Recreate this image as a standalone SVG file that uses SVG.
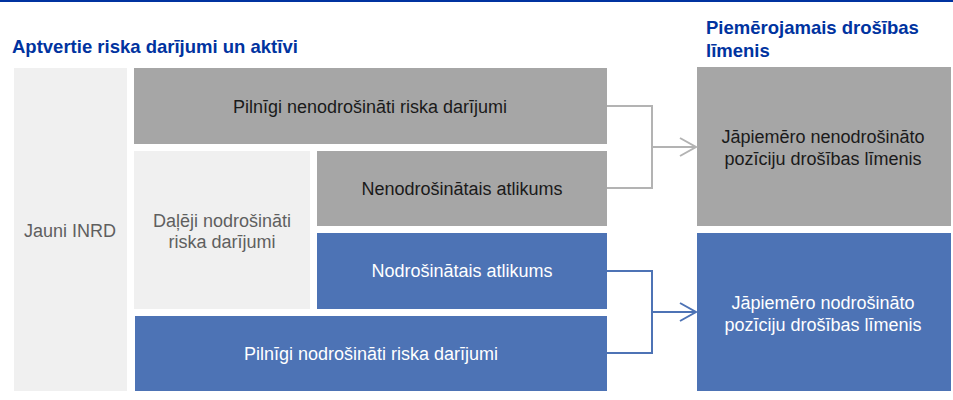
<svg xmlns="http://www.w3.org/2000/svg" width="953" height="400" viewBox="0 0 953 400">
<defs>
<style>
text{font-family:"Liberation Sans",Arial,sans-serif;font-size:18px;text-anchor:middle}
.title{font-weight:bold;fill:#0033a0;text-anchor:start;font-size:18.5px}
.light{fill:#f0f0f0}
.gray{fill:#a6a6a6}
.blue{fill:#4d73b5}
.dk{fill:#1a1a1a}
.wh{fill:#ffffff}
.mid{fill:#5f5f5f}
.cg{fill:none;stroke:#b3b3b3;stroke-width:2}
.cb{fill:none;stroke:#4d73b5;stroke-width:2}
</style>
<marker id="ag" markerWidth="20" markerHeight="20" refX="17" refY="10" orient="auto" markerUnits="userSpaceOnUse"><path d="M1,1 L17,10 L1,19" fill="none" stroke="#b3b3b3" stroke-width="2"/></marker>
<marker id="ab" markerWidth="20" markerHeight="20" refX="17" refY="10" orient="auto" markerUnits="userSpaceOnUse"><path d="M1,1 L17,10 L1,19" fill="none" stroke="#4d73b5" stroke-width="2"/></marker>
</defs>
<rect width="953" height="400" fill="#ffffff"/>
<rect x="0" y="0" width="953" height="2" fill="#0033a0"/>
<text class="title" x="12" y="53">Aptvertie riska darījumi un aktīvi</text>
<text class="title" x="706" y="34">Piemērojamais drošības</text>
<text class="title" x="706" y="57">līmenis</text>
<g id="jauni"><rect class="light" x="14" y="68" width="113" height="323"/><text class="mid" x="70" y="237">Jauni INRD</text></g>
<g id="pilnigi-nenodr"><rect class="gray" x="134" y="68" width="473" height="76"/><text class="dk" x="370" y="113">Pilnīgi nenodrošināti riska darījumi</text></g>
<g id="daleji"><rect class="light" x="134" y="151" width="176" height="158"/><text class="mid" x="222" y="227">Daļēji nodrošināti</text><text class="mid" x="222" y="248">riska darījumi</text></g>
<g id="nenodr-atl"><rect class="gray" x="317" y="151" width="290" height="75"/><text class="dk" x="462" y="195">Nenodrošinātais atlikums</text></g>
<g id="nodr-atl"><rect class="blue" x="317" y="233" width="290" height="76"/><text class="wh" x="462" y="277">Nodrošinātais atlikums</text></g>
<g id="pilnigi-nodr"><rect class="blue" x="135" y="316" width="472" height="75"/><text class="wh" x="371" y="360">Pilnīgi nodrošināti riska darījumi</text></g>
<g id="nenodr-lim"><rect class="gray" x="697" y="67" width="254" height="159"/><text class="dk" x="823" y="143">Jāpiemēro nenodrošināto</text><text class="dk" x="823" y="165">pozīciju drošības līmenis</text></g>
<g id="nodr-lim"><rect class="blue" x="697" y="233" width="254" height="158"/><text class="wh" x="823" y="309">Jāpiemēro nodrošināto</text><text class="wh" x="823" y="331">pozīciju drošības līmenis</text></g>
<g id="connectors">
<path class="cg" d="M607,106 H652 V188 H607"/>
<path class="cg" d="M652,147 H696" marker-end="url(#ag)"/>
<path class="cb" d="M607,271 H652 V353 H607"/>
<path class="cb" d="M652,312 H696" marker-end="url(#ab)"/>
</g>
</svg>
